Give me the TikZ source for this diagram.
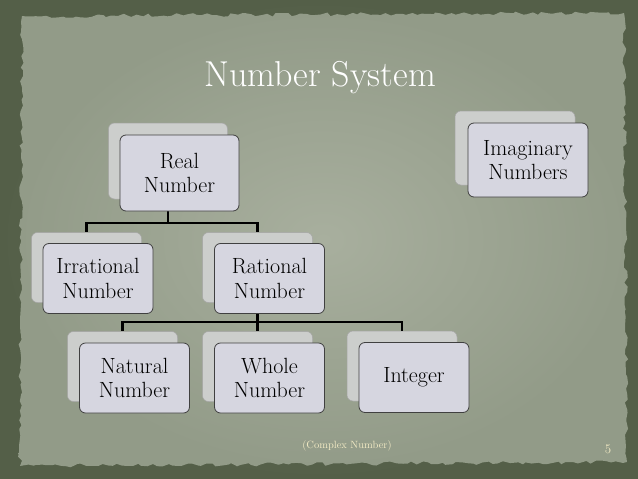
\documentclass[tikz,border=0pt]{standalone}
\usepackage{tikz}
\usepackage{xcolor}
\usetikzlibrary{decorations.pathmorphing}

\definecolor{slatedark}{RGB}{84,95,72}
\definecolor{slatemid}{RGB}{106,117,95}
\definecolor{paperdark}{RGB}{146,155,136}
\definecolor{paperlight}{RGB}{168,175,158}
\definecolor{boxfill}{RGB}{214,214,224}
\definecolor{shadowfill}{RGB}{204,206,204}
\definecolor{cream}{RGB}{242,234,196}

\begin{document}
\begin{tikzpicture}
  [x=1pt,y=-1pt,
   numbox/.style={draw=black!75,fill=boxfill,rounded corners=6pt,line width=.8pt,
     minimum width=110pt,minimum height=70pt,inner sep=0pt,align=center,
     font=\fontsize{22}{24.5}\selectfont},
   shadowbox/.style={draw=black!35,fill=shadowfill,rounded corners=6pt,line width=.5pt,
     minimum width=110pt,minimum height=70pt,inner sep=0pt},
   link/.style={line width=2.6pt,black}]

  \useasboundingbox (0,0) rectangle (638,479);

  % paper background
  \shade[inner color=slatemid,outer color=slatedark] (0,0) rectangle (638,479);
  \shade[inner color=paperlight,outer color=paperdark,decorate,
    decoration={random steps,segment length=5pt,amplitude=2pt}]
    (22,16) -- (624,13) -- (627,462) -- (20,466) -- cycle;

  \node[white,font=\fontsize{36}{40}\selectfont,anchor=base] (title) at (320,86) {Number System};

  % back boxes
  \node[shadowbox,minimum width=119pt,minimum height=76pt] (real-s) at (168,161) {};
  \node[shadowbox,minimum width=120pt,minimum height=74pt] (imag-s) at (515,148) {};
  \node[shadowbox] (irr-s) at (86.5,267.5) {};
  \node[shadowbox] (rat-s) at (257.5,267.5) {};
  \node[shadowbox] (nat-s) at (122.5,366.5) {};
  \node[shadowbox] (whole-s) at (257.5,366.5) {};
  \node[shadowbox] (int-s) at (402,366) {};

  % connectors
  \coordinate (bus1) at (0,223);
  \coordinate (bus2) at (0,322);
  \foreach \kid in {irr,rat}
    \draw[link] (real-s |- real-s.south) |- (bus1 -| \kid-s) -- (\kid-s.north);
  \foreach \kid in {nat,whole,int}
    \draw[link] (rat-s |- rat-s.south) |- (bus2 -| \kid-s) -- (\kid-s.north);

  % front boxes
  \node[numbox,minimum width=119pt,minimum height=76pt] (real) at (179.5,173) {Real\\Number};
  \node[numbox,minimum width=120pt,minimum height=74pt] (imag) at (528,160) {Imaginary\\Numbers};
  \node[numbox] (irr) at (98,278.5) {Irrational\\Number};
  \node[numbox] (rat) at (269.5,278.5) {Rational\\Number};
  \node[numbox] (nat) at (134.5,378) {Natural\\Number};
  \node[numbox] (whole) at (269.5,378) {Whole\\Number};
  \node[numbox] (int) at (414,377.5) {Integer};

  \node[cream,font=\fontsize{10.5}{12}\selectfont] (note) at (347,446) {(Complex Number)};
  \node[cream,font=\fontsize{13}{15}\selectfont] (page) at (608,449) {5};
\end{tikzpicture}
\end{document}
